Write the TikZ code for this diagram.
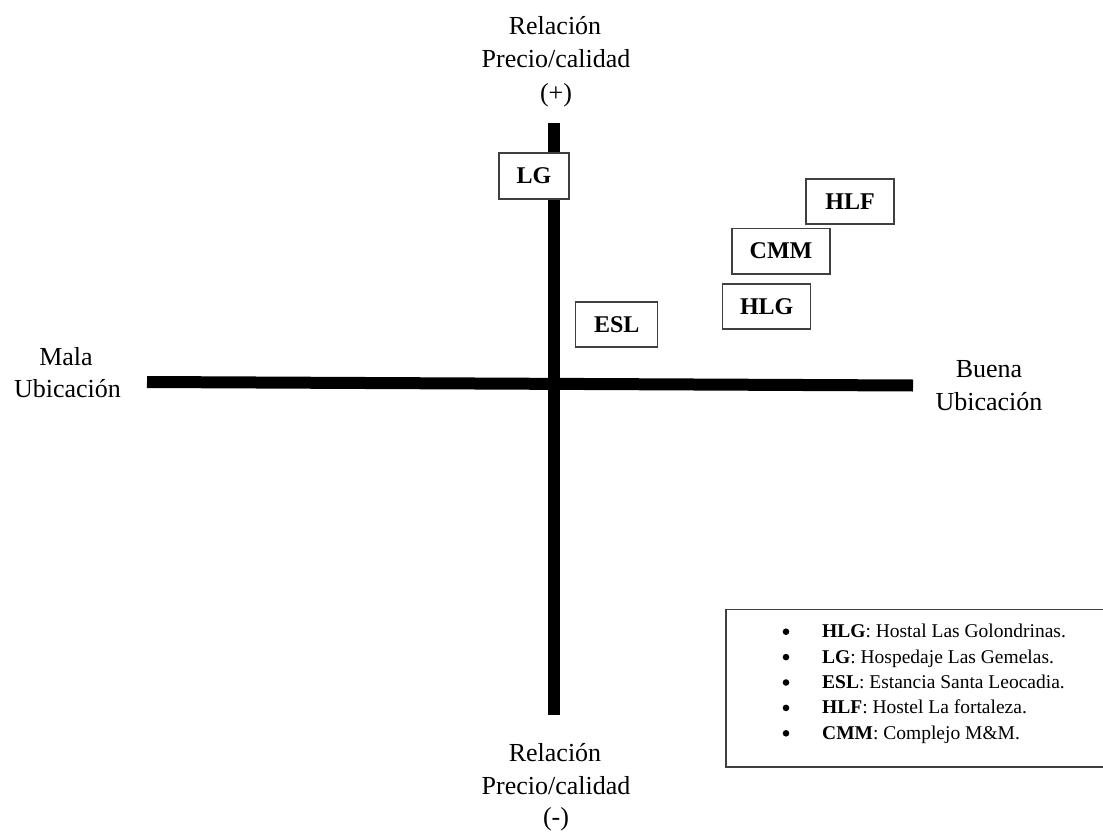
\documentclass[tikz,border=0pt]{standalone}
\usepackage{fontspec}
\setmainfont{Liberation Serif}
\begin{document}
\begin{tikzpicture}[x=1pt,y=-1pt,
  axis/.style={line width=12pt,line cap=butt,black},
  lbl/.style={font=\fontsize{26}{33}\selectfont,inner sep=0pt,anchor=base},
  tag/.style={draw=black!75,line width=1.5pt,fill=white,inner sep=0pt,
              font=\fontsize{24}{28}\selectfont\bfseries},
  legtxt/.style={font=\fontsize{19.5}{24}\selectfont,inner sep=0pt,anchor=base west},
  legbox/.style={draw=black!75,line width=1.5pt}]
\useasboundingbox (0,0) rectangle (1103,832);
% axes
\coordinate (L) at (147,382);
\coordinate (R) at (913,385.5);
\coordinate (T) at (554,123);
\coordinate (B) at (554,715);
\draw[axis] (L) -- (R);
\draw[axis] (T) -- (B);
% axis labels
\node[lbl] (t1) at (555,35) {Relación};
\node[lbl] (t2) at (556,68) {Precio/calidad};
\node[lbl] (t3) at (556,102) {(+)};
\node[lbl] (b1) at (555,761) {Relación};
\node[lbl] (b2) at (556,794) {Precio/calidad};
\node[lbl] (b3) at (556,825) {(-)};
\node[lbl] (l1) at (66,365) {Mala};
\node[lbl] (l2) at (67.5,397) {Ubicación};
\node[lbl] (r1) at (989,377) {Buena};
\node[lbl] (r2) at (989,410) {Ubicación};
% boxes
\node[tag,minimum width=70pt,minimum height=46pt] (LG) at (534,176) {LG};
\node[tag,minimum width=88pt,minimum height=45pt] (HLF) at (850,201.5) {HLF};
\node[tag,minimum width=98pt,minimum height=45.5pt] (CMM) at (781,251) {CMM};
\node[tag,minimum width=88pt,minimum height=45pt] (HLG) at (766.7,306.5) {HLG};
\node[tag,minimum width=82pt,minimum height=45pt] (ESL) at (616.7,324.3) {ESL};
% legend
\draw[legbox] (726,609.3) rectangle (1105,767);
\foreach \y in {631.7,657.1,682.5,707.9,733.3}
  \fill (786,\y) circle (3.3);
\node[legtxt] (k1) at (822,637.7) {\textbf{HLG}: Hostal Las Golondrinas.};
\node[legtxt] (k2) at (822,663.1) {\textbf{LG}: Hospedaje Las Gemelas.};
\node[legtxt] (k3) at (822,688.5) {\textbf{ESL}: Estancia Santa Leocadia.};
\node[legtxt] (k4) at (822,713.9) {\textbf{HLF}: Hostel La fortaleza.};
\node[legtxt] (k5) at (822,739.3) {\textbf{CMM}: Complejo M\&M.};
\end{tikzpicture}
\end{document}
